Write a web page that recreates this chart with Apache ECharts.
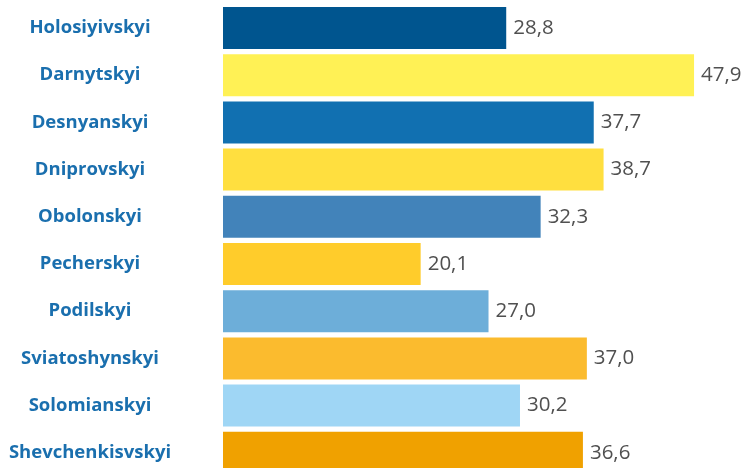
<!DOCTYPE html>
<html>
<head>
<meta charset="utf-8">
<script src="https://cdn.jsdelivr.net/npm/echarts@6/dist/echarts.min.js"></script>
<style>
  html, body { margin: 0; padding: 0; background: #ffffff; }
  #chart { width: 743px; height: 468px; }
</style>
</head>
<body>
<div id="chart"></div>
<script>
// District names, top to bottom
const districts = [
  'Holosiyivskyi', 'Darnytskyi', 'Desnyanskyi', 'Dniprovskyi', 'Obolonskyi',
  'Pecherskyi', 'Podilskyi', 'Sviatoshynskyi', 'Solomianskyi', 'Shevchenkisvskyi'
];
// Value per district
const values = [28.8, 47.9, 37.7, 38.7, 32.3, 20.1, 27.0, 37.0, 30.2, 36.6];
// Bar fill per district
const barColors = [
  '#00558f', '#fff155', '#1170b1', '#ffdf3f', '#4283ba',
  '#ffcc2b', '#6daed9', '#fbbb2e', '#9fd6f5', '#f0a100'
];

const chart = echarts.init(document.getElementById('chart'), null, { renderer: 'canvas' });

chart.setOption({
  animation: false,
  // the last band runs slightly past the bottom edge of the canvas
  grid: {
    left: 223, width: 491.7, top: 4.4, height: 472,
    containLabel: false, outerBoundsMode: 'none'
  },
  xAxis: {
    type: 'value', min: 0, max: 50, show: false
  },
  yAxis: {
    type: 'category',
    inverse: true,
    data: districts,
    axisLine: { show: false },
    axisTick: { show: false },
    axisLabel: {
      align: 'center',
      margin: 133,
      color: '#1a6fae',
      fontFamily: 'Open Sans',
      fontWeight: 'bold',
      fontSize: 18.5
    }
  },
  series: [{
    type: 'bar',
    barCategoryGap: '11%',
    data: values.map((v, i) => ({ value: v, itemStyle: { color: barColors[i] } })),
    label: {
      show: true,
      position: 'right',
      distance: 7,
      color: '#505050',
      fontFamily: 'Open Sans',
      fontSize: 20.5,
      formatter: p => p.value.toFixed(1).replace('.', ',')
    }
  }]
});
</script>
</body>
</html>
